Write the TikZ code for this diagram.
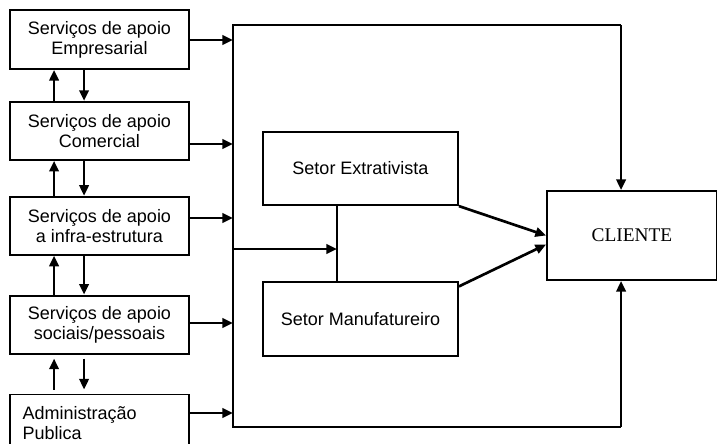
\documentclass[tikz,border=0pt]{standalone}
\usepackage{fontspec}
\setmainfont{Liberation Sans}
\newfontfamily\timesfont{Liberation Serif}
\usetikzlibrary{positioning, arrows.meta, calc}

\begin{document}
\begin{tikzpicture}[x=0.75pt, y=-0.75pt,
  every node/.style={font=\fontsize{13.5}{15}\selectfont, align=center},
  box/.style={rectangle, draw, line width=1.4pt, inner sep=0pt,
              minimum width=134.25pt, minimum height=43.5pt},
  sector/.style={box, minimum width=146.25pt, minimum height=55pt},
  arr/.style={-{Triangle[length=8pt, width=7pt]}, line width=2pt},
  line/.style={line width=1.4pt}
]
\useasboundingbox (0,0) rectangle (717,443);

\node[box, minimum height=44.25pt] (emp) at (99.5,39.5) {Serviços de apoio\\ Empresarial};
\node[box, below=23.25pt of emp] (com)   {Serviços de apoio\\ Comercial};
\node[box, below=26.25pt of com] (infra) {Serviços de apoio\\ a infra-estrutura};
\node[box, below=29.25pt of infra] (soc) {Serviços de apoio\\ sociais/pessoais};
\node[box, below=29.25pt of soc, align=left, inner xsep=9.5pt,
      text width=115.25pt] (adm) {Administração\\ Publica};

\node[sector] (extr)  at (360.5,168.5) {Setor Extrativista};
\node[sector] (manuf) at (360.5,319)   {Setor Manufatureiro};
\node[box, minimum width=127.5pt, minimum height=66.75pt,
      font=\timesfont\fontsize{14.5}{16}\selectfont] (cliente) at (632,235.5) {CLIENTE};

\coordinate (ftop) at (233,25);
\coordinate (fbot) at (233,427);
\coordinate (in1)  at (233,40);
\coordinate (in2)  at (233,144);
\coordinate (in3)  at (233,218);
\coordinate (in4)  at (233,323);
\coordinate (in5)  at (233,413);
\coordinate (feed) at (233,249);
\coordinate (stub) at ($(extr.south west)+(75,0)$);
\coordinate (down) at ($(cliente.north west)+(75,0)$);
\coordinate (up)   at ($(cliente.south west)+(75,0)$);

\draw[line] (ftop -| down) -- (ftop) -- (fbot) -- (fbot -| up);
\draw[arr] (ftop -| down) -- (down);
\draw[arr] (fbot -| up) -- (up);

\draw[arr] (emp.east |- in1)   -- (in1);
\draw[arr] (com.east |- in2)   -- (in2);
\draw[arr] (infra.east |- in3) -- (in3);
\draw[arr] (soc.east |- in4)   -- (in4);
\draw[arr] (adm.east |- in5)   -- (in5);

\draw[arr] ($(com.north west)+(45,0)$)   -- ($(emp.south west)+(45,0)$);
\draw[arr] ($(emp.south west)+(75,0)$)   -- ($(com.north west)+(75,0)$);
\draw[arr] ($(infra.north west)+(45,0)$) -- ($(com.south west)+(45,0)$);
\draw[arr] ($(com.south west)+(75,0)$)   -- ($(infra.north west)+(75,0)$);
\draw[arr] ($(soc.north west)+(45,0)$)   -- ($(infra.south west)+(45,0)$);
\draw[arr] ($(infra.south west)+(75,0)$) -- ($(soc.north west)+(75,0)$);
\draw[arr, shorten <=3pt, shorten >=3pt] ($(adm.north west)+(45,0)$) -- ($(soc.south west)+(45,0)$);
\draw[arr, shorten <=3pt, shorten >=3pt] ($(soc.south west)+(75,0)$) -- ($(adm.north west)+(75,0)$);

\draw[line] (stub) -- (stub |- manuf.north);
\draw[arr] (feed) -- (feed -| stub);

\draw[arr] (extr.south east) -- (cliente.west);
\draw[arr] ($(manuf.north east)+(0,5)$) -- ($(cliente.west)+(0,9)$);
\end{tikzpicture}
\end{document}
